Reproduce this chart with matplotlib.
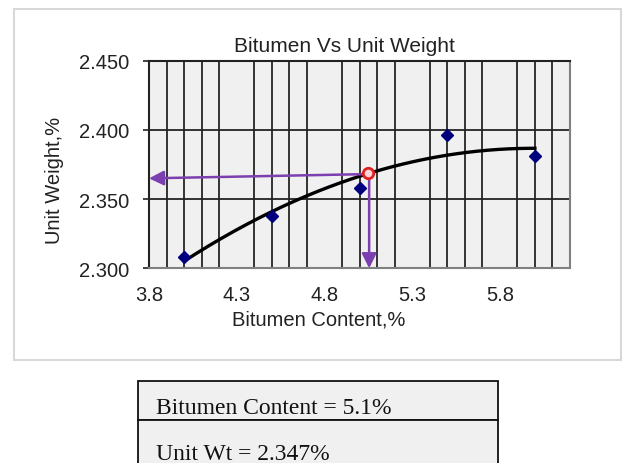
import numpy as np
import matplotlib.pyplot as plt
from matplotlib.patches import Rectangle
from numpy.polynomial import Polynomial

# data
bitumen = [4.0, 4.5, 5.0, 5.5, 6.0]
unit_wt = [2.308, 2.338, 2.358, 2.396, 2.381]

x_ticks = [3.8, 4.3, 4.8, 5.3, 5.8]
y_ticks = [2.300, 2.350, 2.400, 2.450]
x_grid = [3.9, 4.0, 4.1, 4.2, 4.3, 4.4, 4.5, 4.6, 4.7, 4.8, 4.9, 5.0,
          5.1, 5.2, 5.3, 5.4, 5.5, 5.6, 5.7, 5.8, 5.9, 6.0, 6.1]

read_x = 5.05
read_y = 2.369
arrow_left_y = 2.365

opt_bitumen = 5.1
opt_unit_wt = 2.347

purple = '#7B3FB0'
plt.rcParams['font.family'] = ['Liberation Sans', 'DejaVu Sans']

fig = plt.figure(figsize=(6.24, 4.64), dpi=100)
W, H = 624, 464

def fx(px):
    return px / W

def fy(py):
    return 1 - py / H

# chart area border
fig.patches.append(Rectangle((fx(14), fy(361)), fx(621) - fx(14), fy(10) - fy(361),
                             transform=fig.transFigure, facecolor='none',
                             edgecolor='#d8d8d8', lw=1.5, zorder=-5))

ax = fig.add_axes([fx(149), fy(269.3), fx(570) - fx(149), fy(61.7) - fy(269.3)])
ax.set_facecolor('#f0f0f0')
ax.set_xlim(3.8, 6.2)
ax.set_ylim(2.300, 2.450)

ax.set_xticks(x_ticks)
ax.set_xticklabels(['%.1f' % v for v in x_ticks])
ax.set_yticks(y_ticks)
ax.set_yticklabels(['%.3f' % v for v in y_ticks])
ax.set_xticks(x_grid, minor=True)
ax.tick_params(axis='x', which='both', length=0, pad=12, labelsize=14.5, labelcolor='#222222')
ax.tick_params(axis='y', length=4, width=1.2, color='#222222', pad=10,
               labelsize=14.5, labelcolor='#222222')

ax.grid(True, axis='x', which='minor', color='#333333', lw=1.4)
ax.grid(True, axis='y', which='major', color='#222222', lw=1.3)
ax.set_axisbelow(True)

for side in ['top', 'left']:
    ax.spines[side].set_color('#222222')
    ax.spines[side].set_linewidth(1.5)
for side in ['right', 'bottom']:
    ax.spines[side].set_color('#808080')
    ax.spines[side].set_linewidth(1.5)

# polynomial trendline (order 2)
p = Polynomial.fit(bitumen, unit_wt, 2)
xs = np.linspace(min(bitumen), max(bitumen), 200)
ax.plot(xs, p(xs), color='black', lw=2.4, zorder=3)

ax.plot(bitumen, unit_wt, 'D', color='#00007f', markersize=6.5, zorder=4, clip_on=False)

# reading arrows
ax.annotate('', xy=(3.8, arrow_left_y), xytext=(read_x - 0.03, read_y - 0.001),
            arrowprops=dict(arrowstyle='-|>', color=purple, lw=1.8,
                            mutation_scale=22, shrinkA=0, shrinkB=0), zorder=5)
ax.annotate('', xy=(read_x + 0.005, 2.300), xytext=(read_x + 0.005, read_y - 0.002),
            arrowprops=dict(arrowstyle='-|>', color=purple, lw=1.8,
                            mutation_scale=22, shrinkA=0, shrinkB=0), zorder=5)
ax.plot([read_x], [read_y], 'o', markersize=7.5, markerfacecolor='#f8d8d8',
        markeredgecolor='#e02020', markeredgewidth=2, zorder=6)

fig.text(fx(344), fy(46), 'Bitumen Vs Unit Weight', ha='center', va='center',
         fontsize=15, color='#222222')
fig.text(fx(319), fy(320), 'Bitumen Content,%', ha='center', va='center',
         fontsize=14.5, color='#222222')
fig.text(fx(55), fy(180), 'Unit Weight,%', ha='center', va='center',
         rotation=90, fontsize=14.5, color='#222222')

# result table below the chart
for top, bot in [(382, 421), (421, 470)]:
    fig.patches.append(Rectangle((fx(138), fy(bot)), fx(498) - fx(138), fy(top) - fy(bot),
                                 transform=fig.transFigure, facecolor='#f0f0f0',
                                 edgecolor='#111111', lw=1.3, clip_on=False))
fig.text(fx(156), fy(414), 'Bitumen Content = %.1f%%' % opt_bitumen, ha='left',
         va='baseline', fontsize=17, family=['Liberation Serif', 'DejaVu Serif'], color='#111111')
fig.text(fx(156), fy(460), 'Unit Wt = %.3f%%' % opt_unit_wt, ha='left',
         va='baseline', fontsize=17, family=['Liberation Serif', 'DejaVu Serif'], color='#111111')

fig.savefig('out.png', dpi=100)
